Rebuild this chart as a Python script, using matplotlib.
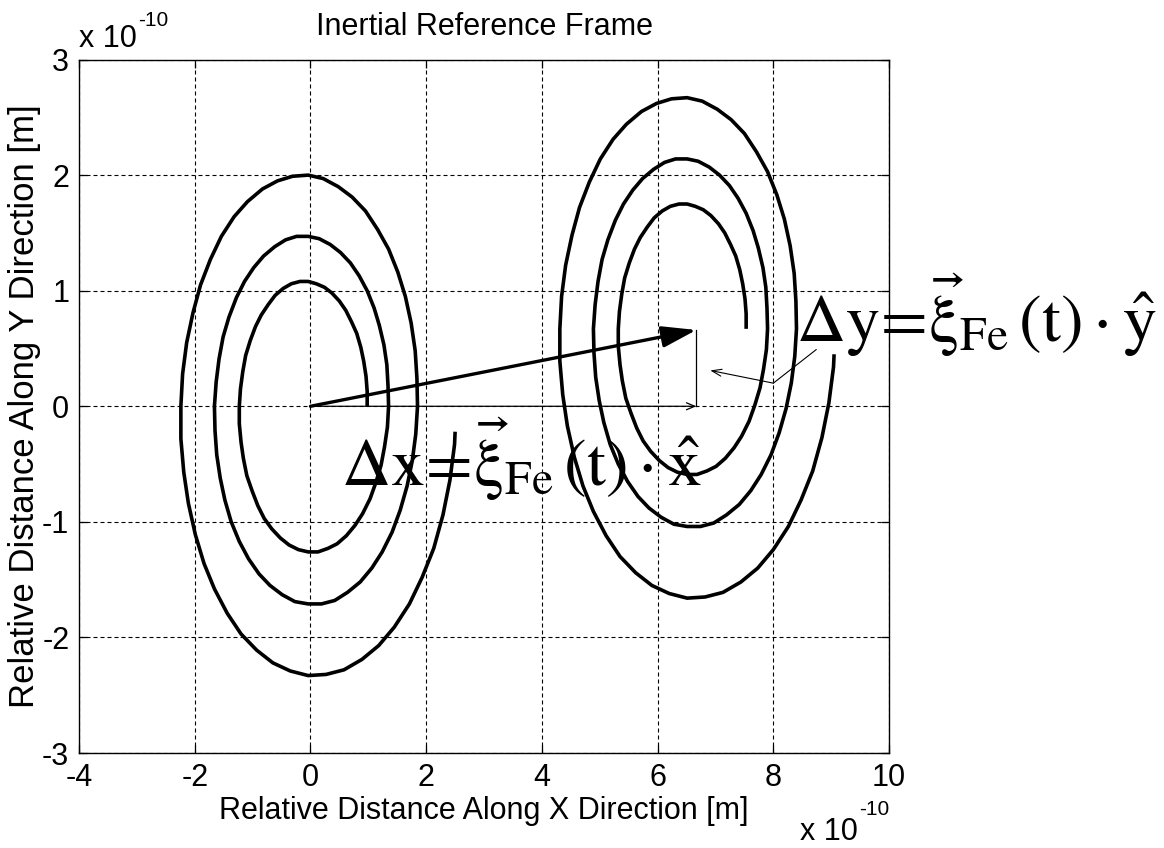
import matplotlib
matplotlib.use("Agg")
import matplotlib.pyplot as plt
from matplotlib.transforms import offset_copy

plt.rcParams['font.family'] = ['Liberation Sans', 'DejaVu Sans']
plt.rcParams['font.size'] = 22
plt.rcParams['axes.unicode_minus'] = False
plt.rcParams['mathtext.fontset'] = 'stix'

# trajectories, in units of 1e-10 m, sampled every 7.5 degrees of the orbit
orbit_fixed_x = [
    0.98, 0.98, 0.96, 0.92, 0.87, 0.80, 0.71, 0.61, 0.50, 0.37, 0.24, 0.10,
    -0.04, -0.18, -0.33, -0.47, -0.61, -0.73, -0.85, -0.95, -1.04, -1.12, -1.17, -1.21,
    -1.23, -1.23, -1.20, -1.16, -1.10, -1.01, -0.91, -0.80, -0.67, -0.52, -0.37, -0.21,
    -0.04, 0.13, 0.30, 0.46, 0.62, 0.77, 0.90, 1.03, 1.13, 1.22, 1.28, 1.33,
    1.35, 1.34, 1.32, 1.27, 1.19, 1.10, 0.98, 0.84, 0.69, 0.52, 0.34, 0.15,
    -0.04, -0.24, -0.43, -0.62, -0.81, -0.98, -1.14, -1.28, -1.41, -1.51, -1.58, -1.63,
    -1.66, -1.65, -1.62, -1.56, -1.48, -1.37, -1.23, -1.07, -0.89, -0.70, -0.49, -0.27,
    -0.04, 0.19, 0.42, 0.64, 0.86, 1.06, 1.24, 1.41, 1.55, 1.67, 1.76, 1.82,
    1.85, 1.84, 1.81, 1.74, 1.64, 1.51, 1.35, 1.16, 0.95, 0.72, 0.48, 0.22,
    -0.04, -0.31, -0.57, -0.83, -1.09, -1.32, -1.54, -1.73, -1.90, -2.03, -2.14, -2.21,
    -2.24, -2.24, -2.19, -2.11, -1.99, -1.84, -1.66, -1.44, -1.20, -0.93, -0.65, -0.35,
    -0.04, 0.27, 0.58, 0.89, 1.18, 1.45, 1.71, 1.93, 2.13, 2.29, 2.41, 2.49,
    2.50]
orbit_fixed_y = [
    0.00, 0.13, 0.26, 0.39, 0.51, 0.63, 0.73, 0.83, 0.91, 0.98, 1.03, 1.06,
    1.08, 1.08, 1.06, 1.02, 0.96, 0.88, 0.79, 0.69, 0.57, 0.44, 0.30, 0.15,
    0.00, -0.15, -0.31, -0.45, -0.60, -0.73, -0.86, -0.97, -1.06, -1.14, -1.20, -1.24,
    -1.26, -1.26, -1.23, -1.19, -1.12, -1.03, -0.93, -0.80, -0.66, -0.51, -0.35, -0.18,
    0.00, 0.18, 0.36, 0.53, 0.70, 0.85, 1.00, 1.13, 1.24, 1.33, 1.40, 1.45,
    1.47, 1.47, 1.44, 1.38, 1.30, 1.20, 1.08, 0.94, 0.77, 0.60, 0.41, 0.21,
    0.00, -0.21, -0.42, -0.62, -0.81, -1.00, -1.17, -1.32, -1.45, -1.55, -1.63, -1.69,
    -1.71, -1.71, -1.68, -1.61, -1.52, -1.40, -1.26, -1.09, -0.90, -0.69, -0.47, -0.24,
    0.00, 0.24, 0.48, 0.72, 0.95, 1.16, 1.36, 1.53, 1.69, 1.81, 1.90, 1.97,
    2.00, 1.99, 1.95, 1.88, 1.77, 1.64, 1.47, 1.27, 1.05, 0.81, 0.55, 0.28,
    0.00, -0.28, -0.57, -0.84, -1.11, -1.36, -1.58, -1.79, -1.97, -2.11, -2.22, -2.29,
    -2.33, -2.32, -2.28, -2.19, -2.07, -1.91, -1.71, -1.48, -1.23, -0.94, -0.64, -0.33,
    -0.22]

orbit_moved_x = [
    7.53, 7.53, 7.51, 7.47, 7.42, 7.35, 7.26, 7.16, 7.05, 6.92, 6.79, 6.65,
    6.51, 6.37, 6.22, 6.08, 5.94, 5.82, 5.70, 5.60, 5.51, 5.43, 5.38, 5.34,
    5.32, 5.32, 5.35, 5.39, 5.45, 5.54, 5.64, 5.75, 5.88, 6.03, 6.18, 6.34,
    6.51, 6.68, 6.85, 7.01, 7.17, 7.32, 7.45, 7.58, 7.68, 7.77, 7.83, 7.88,
    7.90, 7.89, 7.87, 7.82, 7.74, 7.65, 7.53, 7.39, 7.24, 7.07, 6.89, 6.70,
    6.51, 6.31, 6.12, 5.93, 5.74, 5.57, 5.41, 5.27, 5.14, 5.04, 4.97, 4.92,
    4.89, 4.90, 4.93, 4.99, 5.07, 5.18, 5.32, 5.48, 5.66, 5.85, 6.06, 6.28,
    6.51, 6.74, 6.97, 7.19, 7.41, 7.61, 7.79, 7.96, 8.10, 8.22, 8.31, 8.37,
    8.40, 8.39, 8.36, 8.29, 8.19, 8.06, 7.90, 7.71, 7.50, 7.27, 7.03, 6.77,
    6.51, 6.24, 5.98, 5.72, 5.46, 5.23, 5.01, 4.82, 4.65, 4.52, 4.41, 4.34,
    4.31, 4.31, 4.36, 4.44, 4.56, 4.71, 4.89, 5.11, 5.35, 5.62, 5.90, 6.20,
    6.51, 6.82, 7.13, 7.44, 7.73, 8.00, 8.26, 8.48, 8.68, 8.84, 8.96, 9.04,
    9.05]
orbit_moved_y = [
    0.67, 0.80, 0.93, 1.06, 1.18, 1.30, 1.40, 1.50, 1.58, 1.65, 1.70, 1.73,
    1.75, 1.75, 1.73, 1.69, 1.63, 1.55, 1.46, 1.36, 1.24, 1.11, 0.97, 0.82,
    0.67, 0.52, 0.36, 0.22, 0.07, -0.06, -0.19, -0.30, -0.39, -0.47, -0.53, -0.57,
    -0.59, -0.59, -0.56, -0.52, -0.45, -0.36, -0.26, -0.13, 0.01, 0.16, 0.32, 0.49,
    0.67, 0.85, 1.03, 1.20, 1.37, 1.52, 1.67, 1.80, 1.91, 2.00, 2.07, 2.12,
    2.14, 2.14, 2.11, 2.05, 1.97, 1.87, 1.75, 1.61, 1.44, 1.27, 1.08, 0.88,
    0.67, 0.46, 0.25, 0.05, -0.14, -0.33, -0.50, -0.65, -0.78, -0.88, -0.96, -1.02,
    -1.04, -1.04, -1.01, -0.94, -0.85, -0.73, -0.59, -0.42, -0.23, -0.02, 0.20, 0.43,
    0.67, 0.91, 1.15, 1.39, 1.62, 1.83, 2.03, 2.20, 2.36, 2.48, 2.57, 2.64,
    2.67, 2.66, 2.62, 2.55, 2.44, 2.31, 2.14, 1.94, 1.72, 1.48, 1.22, 0.95,
    0.67, 0.39, 0.10, -0.17, -0.44, -0.69, -0.91, -1.12, -1.30, -1.44, -1.55, -1.62,
    -1.66, -1.65, -1.61, -1.52, -1.40, -1.24, -1.04, -0.81, -0.56, -0.27, 0.03, 0.34,
    0.45]

# displacement xi_Fe(t) between the two orbit centres
xi_x = 6.67
xi_y = 0.66

# leader line from the dy label to the vertical component
leader_x = [8.74, 8.00, 6.91]
leader_y = [0.49, 0.20, 0.31]

x_ticks = [-4, -2, 0, 2, 4, 6, 8, 10]
y_ticks = [-3, -2, -1, 0, 1, 2, 3]

fig = plt.figure(figsize=(11.64, 8.48), dpi=100)
ax = fig.add_axes([0.0679, 0.1120, 0.6959, 0.8178])

for ox, oy in [(orbit_fixed_x, orbit_fixed_y), (orbit_moved_x, orbit_moved_y)]:
    ax.plot(ox, oy, color='k', lw=2.6, solid_capstyle='butt', solid_joinstyle='round')

# total displacement (bold) and its x / y components (thin)
ax.annotate('', xy=(xi_x, xi_y), xytext=(0, 0),
            arrowprops=dict(arrowstyle='-|>,head_length=21,head_width=6.5',
                            mutation_scale=1, lw=2.4, color='k',
                            shrinkA=0, shrinkB=0))
ax.annotate('', xy=(xi_x, 0), xytext=(0, 0),
            arrowprops=dict(arrowstyle='->,head_length=6,head_width=2.5',
                            mutation_scale=1, lw=0.9, color='k',
                            shrinkA=0, shrinkB=0))
ax.plot([xi_x, xi_x], [0, xi_y], color='k', lw=0.9)

ax.plot(leader_x[:2], leader_y[:2], color='k', lw=0.8)
ax.annotate('', xy=(leader_x[2], leader_y[2]), xytext=(leader_x[1], leader_y[1]),
            arrowprops=dict(arrowstyle='->,head_length=7,head_width=2.5',
                            mutation_scale=1, lw=0.8, color='k',
                            shrinkA=0, shrinkB=0))

ax.text(0.53, -0.69, r'$\mathrm{\Delta x\!=\!\vec{\xi}_{Fe}\,(t)\cdot\hat{x}}$',
        fontsize=49, ha='left', va='baseline')
ax.text(8.40, 0.56, r'$\mathrm{\Delta y\!=\!\vec{\xi}_{Fe}\,(t)\cdot\hat{y}}$',
        fontsize=49, ha='left', va='baseline', clip_on=False)

ax.set_xlim(-4, 10)
ax.set_ylim(-3, 3)
ax.set_xticks(x_ticks)
ax.set_yticks(y_ticks)
ax.tick_params(direction='in', length=6, width=0.9, top=True, right=True, pad=7)
for s in ax.spines.values():
    s.set_linewidth(1.0)
ax.set_axisbelow(True)
ax.grid(True, color='k', lw=0.8, linestyle=(0, (3.6, 2.7)))

ax.set_title('Inertial Reference Frame', fontsize=22, pad=17.5)
ax.set_xlabel('Relative Distance Along X Direction [m]', labelpad=2)
ax.set_ylabel('Relative Distance Along Y Direction [m]', fontsize=25, labelpad=1)

# MATLAB style exponent labels
t1 = ax.text(0, 1, 'x 10', transform=offset_copy(ax.transAxes, fig=fig, y=12.5, units='dots'),
             ha='left', va='baseline')
ax.annotate('-10', xy=(1, 0), xycoords=t1, xytext=(1, 28), textcoords='offset pixels',
            ha='left', va='baseline', fontsize=15)
t2 = ax.text(1, 0, '-10', transform=offset_copy(ax.transAxes, fig=fig, y=-62, units='dots'),
             ha='right', va='baseline', fontsize=15)
ax.annotate('x 10', xy=(0, 0), xycoords=t2, xytext=(-1, -21), textcoords='offset pixels',
            ha='right', va='baseline')

fig.savefig('out.png', dpi=100)
